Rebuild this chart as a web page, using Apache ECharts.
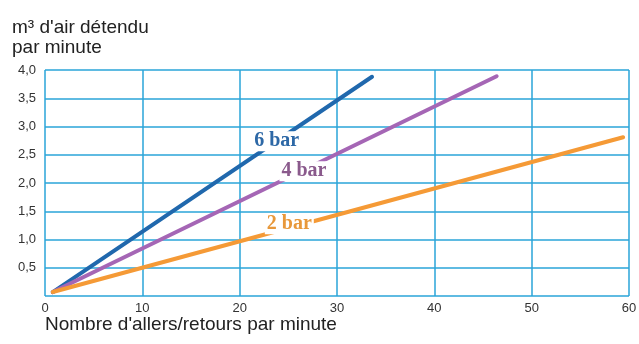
<!DOCTYPE html>
<html>
<head>
<meta charset="utf-8">
<script src="https://cdn.jsdelivr.net/npm/echarts@6/dist/echarts.min.js"></script>
<style>
html,body{margin:0;padding:0;background:#fff;}
#chart{width:639px;height:344px;}
</style>
</head>
<body>
<div id="chart"></div>
<script>
// Air consumption vs. strokes per minute, for three supply pressures
var pressures = ['6 bar', '4 bar', '2 bar'];
var colors = ['#2068ad', '#a566b5', '#f59a36'];
var labelColors = ['#2d68a6', '#8a5a8c', '#e8983a'];
var line6bar = [[0.8, 0.07], [33.6, 3.88]];
var line4bar = [[0.8, 0.07], [46.4, 3.89]];
var line2bar = [[0.8, 0.07], [59.4, 2.81]];
// label anchor points in data space
var labelPos = [[23.8, 2.74], [26.6, 2.21], [25.1, 1.27]];
var xTicks = [0, 10, 20, 30, 40, 50, 60];
var yTitle = 'm³ d\'air détendu\npar minute';
var xTitle = 'Nombre d\'allers/retours par minute';

var chart = echarts.init(document.getElementById('chart'));
var lines = [line6bar, line4bar, line2bar];
var gridColor = '#2aa5d8';
var titleFont = { fontFamily: 'Liberation Sans', fontWeight: 'normal', fontSize: 19, color: '#222', lineHeight: 20 };

var series = lines.map(function (d, i) {
  return {
    name: pressures[i],
    type: 'line',
    data: d,
    symbol: 'none',
    lineStyle: { color: colors[i], width: 4, cap: 'round' },
    markPoint: {
      symbol: 'circle',
      symbolSize: 0,
      data: [{ coord: labelPos[i] }],
      label: {
        show: true,
        formatter: pressures[i],
        color: labelColors[i],
        fontFamily: 'Liberation Serif',
        fontWeight: 'bold',
        fontSize: 20,
        position: 'inside',
        backgroundColor: '#fff',
        padding: [0, 2]
      }
    }
  };
});

chart.setOption({
  backgroundColor: '#fff',
  animation: false,
  title: [
    { text: yTitle, left: 7, top: 13, textStyle: titleFont },
    { text: xTitle, left: 40, top: 310, textStyle: titleFont }
  ],
  grid: { left: 45, right: 10, top: 70, bottom: 48, containLabel: false, outerBoundsMode: 'none' },
  xAxis: {
    type: 'value',
    min: 0, max: 60, interval: 10,
    axisLine: { show: false },
    axisTick: { show: false },
    axisLabel: { color: '#333', fontFamily: 'Liberation Sans', fontSize: 13, margin: 6 },
    splitLine: { show: true, lineStyle: { color: gridColor, width: 1.5 } }
  },
  yAxis: {
    type: 'value',
    min: 0, max: 4, interval: 0.5,
    axisLine: { show: false },
    axisTick: { show: false },
    axisLabel: {
      color: '#333', fontFamily: 'Liberation Sans', fontSize: 13, margin: 9,
      formatter: function (v) { return v === 0 ? '' : v.toFixed(1).replace('.', ','); }
    },
    splitLine: { show: true, lineStyle: { color: gridColor, width: 1.5 } }
  },
  series: series
});
</script>
</body>
</html>
